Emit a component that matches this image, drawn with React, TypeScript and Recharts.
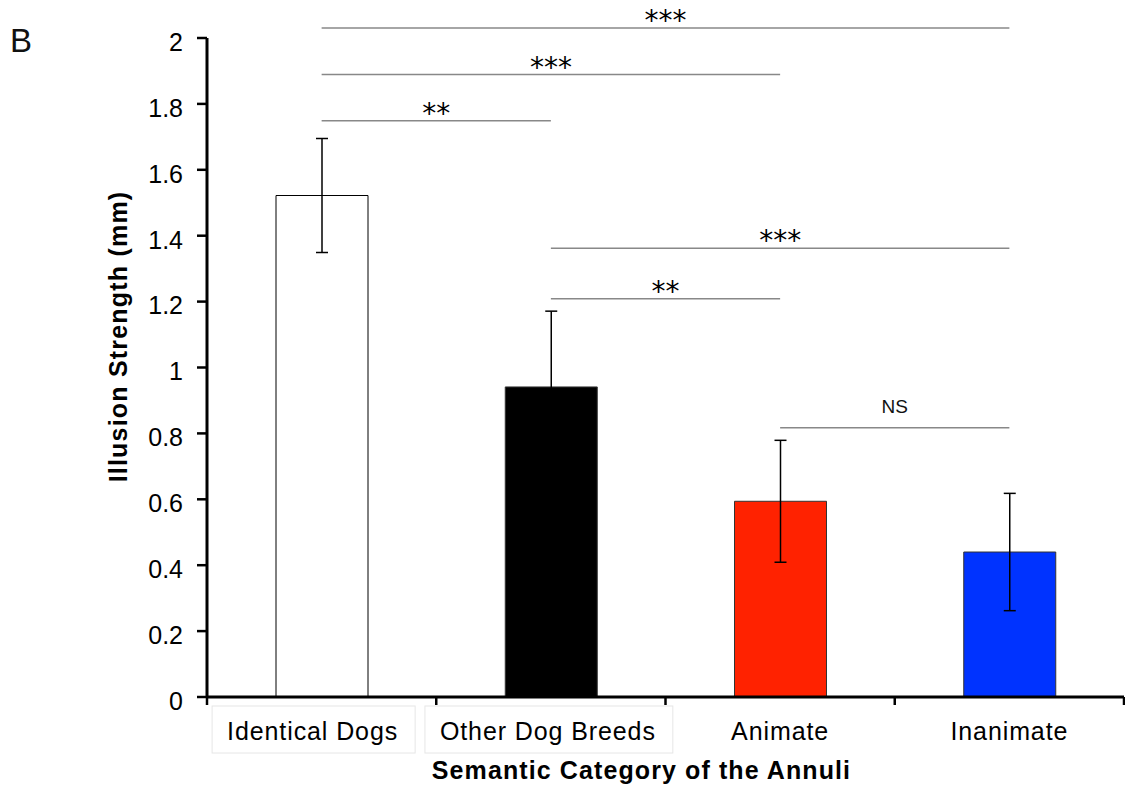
import { useLayoutEffect, useRef, useState } from "react";
import {
  Bar,
  BarChart,
  Cell,
  ErrorBar,
  ReferenceLine,
  XAxis,
  YAxis,
} from "recharts";

const categories = ["Identical Dogs", "Other Dog Breeds", "Animate", "Inanimate"];
const means = [1.522, 0.941, 0.594, 0.44];
const sems = [0.173, 0.23, 0.185, 0.178];
const barColors = ["#ffffff", "#000000", "#ff2200", "#0033ff"];
const yTicks = [0, 0.2, 0.4, 0.6, 0.8, 1, 1.2, 1.4, 1.6, 1.8, 2];

// pairwise comparisons drawn above the bars
const sigFrom = [0, 0, 0, 1, 1, 2];
const sigTo = [3, 2, 1, 3, 2, 3];
const sigLevel = [2.03, 1.889, 1.749, 1.362, 1.209, 0.817];
const sigText = ["***", "***", "**", "***", "**", "NS"];

const data = categories.map((name, i) => ({ name, mean: means[i], sem: sems[i] }));

const FONT = "'Liberation Sans', Arial, sans-serif";

function CategoryTick(props: any) {
  const { x, y, payload, index, width, visibleTicksCount } = props;
  const half = payload.offset ? payload.offset : width / visibleTicksCount / 2;
  const textRef = useRef<SVGTextElement>(null);
  const [textW, setTextW] = useState(0);
  useLayoutEffect(() => {
    if (textRef.current) setTextW(textRef.current.getBBox().width);
  }, [payload.value]);
  const boxed = index < 2;
  // the two boxed labels sit a little left of the band centre in the original
  const tx = x + (index === 0 ? -9 : index === 1 ? -3 : 0);
  return (
    <g>
      {index === 0 && (
        <line x1={x - half} x2={x - half} y1={y} y2={y + 8} stroke="#000" strokeWidth={2.5} />
      )}
      <line x1={x + half} x2={x + half} y1={y} y2={y + 8} stroke="#000" strokeWidth={2.5} />
      {boxed && textW > 0 && (
        <rect
          x={tx - textW / 2 - 15}
          y={y + 9}
          width={textW + 32}
          height={47}
          fill="#fff"
          stroke="#e6e6e6"
          strokeWidth={1}
        />
      )}
      <text
        ref={textRef}
        x={tx}
        y={y + 43}
        textAnchor="middle"
        fontSize={25}
        letterSpacing={0.9}
        fill="#000"
      >
        {payload.value}
      </text>
    </g>
  );
}

function YTitle(props: any) {
  const { x, y, height } = props.viewBox;
  const cx = x + 89;
  const cy = y + height / 2 - 31;
  return (
    <text
      x={cx}
      y={cy}
      transform={`rotate(-90, ${cx}, ${cy})`}
      textAnchor="middle"
      dominantBaseline="central"
      fontSize={25}
      fontWeight="bold"
      letterSpacing={1.2}
      fill="#000"
    >
      Illusion Strength (mm)
    </text>
  );
}

function XTitle(props: any) {
  const { x, y, width } = props.viewBox;
  return (
    <text
      x={x + width / 2 - 24}
      y={y + 82}
      textAnchor="middle"
      fontSize={25}
      fontWeight="bold"
      letterSpacing={1.1}
      fill="#000"
    >
      Semantic Category of the Annuli
    </text>
  );
}

export default function App() {
  return (
    <div
      style={{
        position: "absolute",
        left: 0,
        top: 0,
        width: 1125,
        height: 788,
        background: "#fff",
        fontFamily: FONT,
      }}
    >
      <div
        style={{
          position: "absolute",
          left: 10,
          top: 24,
          fontSize: 33,
          lineHeight: "33px",
          color: "#111",
        }}
      >
        B
      </div>
      <BarChart
        width={1125}
        height={788}
        data={data}
        margin={{ top: 38, right: 1, bottom: 0, left: 29 }}
      >
        <XAxis
          dataKey="name"
          height={91}
          axisLine={{ stroke: "#000", strokeWidth: 3 }}
          tickLine={false}
          tickSize={0}
          tickMargin={0}
          interval={0}
          tick={<CategoryTick />}
          label={{ content: XTitle }}
        />
        <YAxis
          width={178}
          domain={[0, 2]}
          ticks={yTicks}
          allowDataOverflow
          axisLine={{ stroke: "#000", strokeWidth: 3 }}
          tickLine={{ stroke: "#000", strokeWidth: 2.5 }}
          tickSize={10}
          tickMargin={14}
          tick={{ fill: "#000", fontSize: 25, dy: 4 }}
          label={{ content: YTitle }}
        />
        <Bar
          dataKey="mean"
          barSize={92}
          stroke="#333"
          strokeWidth={1}
          isAnimationActive={false}
        >
          {data.map((d, i) => (
            <Cell key={d.name} fill={barColors[i]} stroke={i === 0 ? "#000" : "#333"} />
          ))}
          <ErrorBar
            dataKey="sem"
            direction="y"
            width={6}
            stroke="#000"
            strokeWidth={1.5}
            isAnimationActive={false}
          />
        </Bar>
        {sigLevel.map((lvl, i) => (
          <ReferenceLine
            key={i}
            segment={[
              { x: categories[sigFrom[i]], y: lvl },
              { x: categories[sigTo[i]], y: lvl },
            ]}
            stroke="#888"
            strokeWidth={1.5}
            ifOverflow="visible"
            label={
              sigText[i] === "NS"
                ? { value: "NS", position: "top", offset: 15, fontSize: 19, fill: "#111" }
                : {
                    value: sigText[i],
                    position: "top",
                    offset: -2,
                    fontSize: 28,
                    fill: "#000",
                    fontFamily: "'DejaVu Sans', sans-serif",
                  }
            }
          />
        ))}
      </BarChart>
    </div>
  );
}
